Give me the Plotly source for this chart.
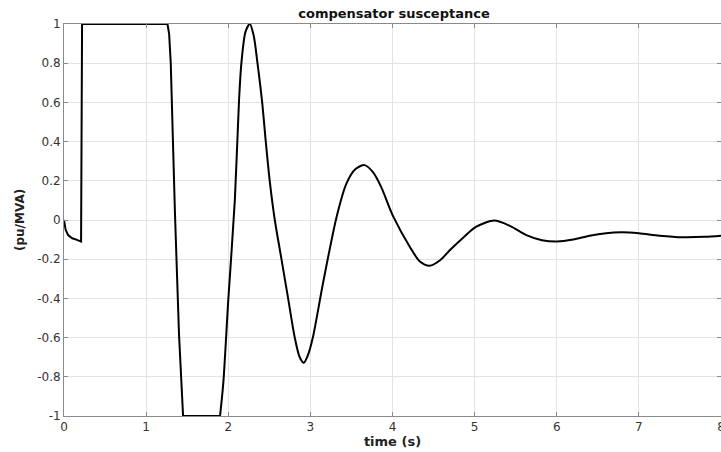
import plotly.graph_objects as go

# time (s) and susceptance (pu/MVA)
time_s = [0, 0.02, 0.05, 0.1, 0.15, 0.2, 0.208, 0.22, 0.6, 1.0, 1.26,
          1.28, 1.30, 1.35, 1.40, 1.45, 1.65, 1.90, 1.94, 2.00, 2.08, 2.13, 2.16,
          2.21, 2.263, 2.31, 2.356, 2.413, 2.457, 2.505, 2.567, 2.648, 2.729,
          2.81, 2.87, 2.92, 2.97, 3.03, 3.155, 3.32, 3.44, 3.55, 3.66, 3.76,
          3.86, 4.01, 4.21, 4.33, 4.45, 4.58, 4.70, 4.86, 5.02, 5.24, 5.43,
          5.63, 5.82, 6.0, 6.2, 6.4, 6.6, 6.8, 7.0, 7.25, 7.53, 7.8, 8.0]
susceptance = [0, -0.05, -0.077, -0.093, -0.1, -0.107, -0.11, 1, 1, 1, 1,
               0.95, 0.8, 0.05, -0.58, -1, -1, -1, -0.83, -0.41, 0.10, 0.6, 0.8,
               0.96, 1, 0.94, 0.8, 0.6, 0.4, 0.2, 0, -0.2, -0.4,
               -0.6, -0.70, -0.728, -0.69, -0.60, -0.32, 0.017, 0.187, 0.26, 0.28, 0.245,
               0.17, 0.017, -0.136, -0.21, -0.233, -0.205, -0.153, -0.09, -0.034, -0.003, -0.03,
               -0.077, -0.103, -0.11, -0.1, -0.08, -0.067, -0.063, -0.068, -0.08, -0.088, -0.086, -0.08]

x_ticks = [0, 1, 2, 3, 4, 5, 6, 7, 8]
y_ticks = [-1, -0.8, -0.6, -0.4, -0.2, 0, 0.2, 0.4, 0.6, 0.8, 1]
y_tick_labels = ["-1", "-0.8", "-0.6", "-0.4", "-0.2", "0", "0.2", "0.4", "0.6", "0.8", "1"]

# saturated (piecewise straight) part up to the end of the -1 plateau,
# smooth oscillation afterwards
split = time_s.index(1.90)

fig = go.Figure()
fig.add_trace(go.Scatter(
    x=time_s[:split + 1], y=susceptance[:split + 1], mode="lines",
    line=dict(color="black", width=2, shape="linear"),
    showlegend=False, hoverinfo="x+y",
))
fig.add_trace(go.Scatter(
    x=time_s[split:], y=susceptance[split:], mode="lines",
    line=dict(color="black", width=2, shape="spline", smoothing=0.8),
    showlegend=False, hoverinfo="x+y",
))

axis_common = dict(
    showline=True, linecolor="#8a8a8a", linewidth=1,
    mirror="ticks", ticks="inside", ticklen=4, tickcolor="#8a8a8a",
    showgrid=True, gridcolor="#e3e3e3", gridwidth=1,
    zeroline=False, automargin=False, ticklabeloverflow="allow",
    tickfont=dict(family="DejaVu Sans", size=12, color="#333333"),
)

fig.update_layout(
    width=721, height=452,
    margin=dict(l=64, r=0, t=24, b=36, autoexpand=False),
    paper_bgcolor="white", plot_bgcolor="white",
    title=dict(text="<b>compensator susceptance</b>", x=0.5465, xanchor="center",
               y=1 - 13 / 452, yanchor="middle",
               font=dict(family="DejaVu Sans", size=13, color="#111111")),
    xaxis=dict(range=[0, 8], tickvals=x_ticks, ticktext=[str(v) for v in x_ticks],
               title=dict(text="<b>time (s)</b>", standoff=0,
                          font=dict(family="DejaVu Sans", size=13, color="#222222")),
               **axis_common),
    yaxis=dict(range=[-1, 1], tickvals=y_ticks, ticktext=y_tick_labels,
               **axis_common),
    annotations=[dict(
        text="<b>(pu/MVA)</b>", textangle=-90, showarrow=False,
        xref="paper", yref="paper", x=(20 - 64) / 657, y=0.5,
        xanchor="center", yanchor="middle",
        font=dict(family="DejaVu Sans", size=12, color="#222222"),
    )],
)

fig.write_html(
    "out.html",
    config={"displayModeBar": False},
    post_script="document.body.style.margin='0px';document.body.style.overflow='hidden';",
)
